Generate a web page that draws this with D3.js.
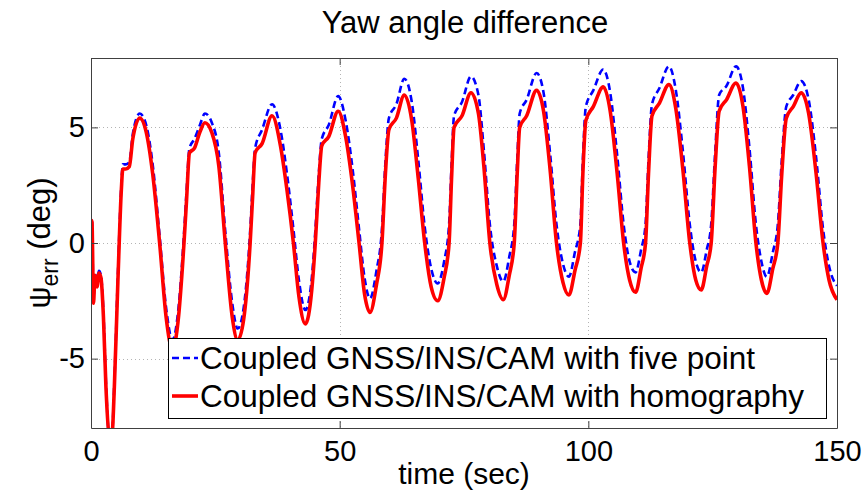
<!DOCTYPE html>
<html>
<head>
<meta charset="utf-8">
<script src="https://cdn.jsdelivr.net/npm/d3@7"></script>
<style>
  html, body { margin: 0; padding: 0; background: #fff; }
  svg { display: block; font-family: Arial, "Liberation Sans", sans-serif; }
</style>
</head>
<body>
<svg id="chart" width="867" height="495"></svg>
<script>
// ---------------- data ----------------
const chartTitle = "Yaw angle difference";
const xLabel = "time (sec)";
const seriesNames = ["Coupled GNSS/INS/CAM with five point", "Coupled GNSS/INS/CAM with homography"];
const xTicks = [0, 50, 100, 150];
const yTicks = [-5, 0, 5];

const time = [
  0, 0.2, 0.5, 0.8, 1.2, 1.6, 2.0, 2.5, 3.0, 3.6, 4.2, 4.7, 5.4, 6.1, 6.4, 7.0, 7.7, 8.4, 9.8, 11.1, 12.4, 13.8, 15.1,
  16.4, 17.5, 18.7, 19.2, 19.8, 20.8, 21.9, 22.9, 24.3, 25.7, 27.0, 28.4,
  29.5, 30.7, 32.0, 32.5, 33.0, 34.4, 36.4, 38.1, 39.4, 40.7, 41.8,
  43.1, 44.4, 45.1, 45.8, 46.4, 47.8, 49.7, 51.2, 52.6, 53.9, 55.0,
  56.1, 57.4, 58.5, 59.2, 59.9, 61.4, 63.0, 64.5, 65.8, 67.1, 68.4,
  69.7, 71.0, 72.0, 72.5, 73.0, 74.6, 76.4, 77.9, 79.0, 80.2, 81.6,
  82.9, 84.1, 85.1, 85.7, 86.2, 87.6, 89.6, 91.0, 92.3, 93.6, 94.9,
  96.1, 97.3, 98.4, 98.9, 99.5, 101.0, 103.0, 104.4, 105.8, 107.1, 108.3,
  109.5, 110.6, 111.5, 112.1, 112.8, 114.3, 116.2, 117.6, 119.0, 120.4, 121.6,
  122.7, 123.8, 124.7, 125.5, 126.3, 127.8, 129.7, 131.1, 132.4, 133.7, 134.8,
  135.9, 137.1, 138.1, 138.9, 139.8, 141.2, 142.8, 144.3, 145.8, 147.2, 148.4, 150
];
const homography = [
  1.0, 0.9, -2.6, -1.4, -1.9, -1.3, -1.5, -3.2, -6.2, -8.2, -8.3, -6.2, -1.7, 2.3, 3.2, 3.2, 3.3, 4.5, 5.4, 4.8, 3.0, 0, -3.2,
  -4.6, -3.4, 0, 1.8, 3.9, 4.1, 4.8, 5.2, 4.77, 3.33, 0, -3.2,
  -4.2, -3.3, 0, 2.0, 3.9, 4.3, 5.5, 4.2, 2.3, 0, -2.3,
  -3.5, -2.0, 0, 2.6, 4.2, 4.6, 5.7, 4.6, 2.5, 0, -2.2,
  -3.0, -1.8, 0, 3.0, 4.9, 5.4, 6.4, 5.3, 2.8, 0, -1.9,
  -2.5, -1.5, 0, 2.8, 5.0, 5.5, 6.5, 5.6, 3.3, 0, -1.8,
  -2.45, -1.4, 0, 3.0, 5.0, 5.5, 6.6, 5.7, 3.2, 0, -1.7,
  -2.25, -1.2, 0, 3.0, 5.3, 5.9, 6.75, 5.7, 3.0, 0, -1.6,
  -2.13, -1.1, 0, 3.0, 5.5, 6.05, 6.85, 5.8, 3.2, 0, -1.6,
  -2.03, -1.0, 0, 3.3, 5.7, 6.2, 6.92, 5.9, 3.3, 0, -1.6,
  -2.18, -1.1, 0, 3.0, 5.4, 5.9, 6.49, 5.6, 3.0, 0, -1.6, -2.45
];
const fivePoint = [
  1.0, 0.9, -2.5, -1.3, -1.8, -1.2, -1.4, -3.0, -6.0, -8.2, -8.3, -6.0, -1.4, 2.5, 3.4, 3.4, 3.5, 4.7, 5.6, 5.1, 3.4, 0.3, -2.8,
  -4.2, -3.0, 0.4, 2.2, 4.1, 4.5, 5.1, 5.6, 5.2, 3.9, 0.5, -2.6,
  -3.7, -2.8, 0.5, 2.5, 4.1, 4.9, 6.0, 4.9, 3.0, 0.6, -1.6,
  -2.9, -1.5, 0.5, 3.0, 4.5, 5.1, 6.35, 5.3, 3.2, 0.6, -1.5,
  -2.4, -1.2, 0.6, 3.5, 5.4, 6.0, 7.1, 6.1, 3.6, 0.7, -1.1,
  -1.75, -0.8, 0.8, 3.4, 5.5, 6.1, 7.2, 6.4, 4.0, 0.8, -1.0,
  -1.67, -0.6, 0.8, 3.6, 5.6, 6.2, 7.35, 6.5, 3.9, 0.8, -0.9,
  -1.46, -0.4, 0.8, 3.6, 5.9, 6.6, 7.5, 6.5, 3.8, 0.8, -0.8,
  -1.27, -0.3, 0.8, 3.6, 6.0, 6.7, 7.64, 6.6, 4.0, 0.8, -0.8,
  -1.27, -0.3, 0.8, 3.9, 6.4, 6.8, 7.64, 6.7, 4.1, 0.8, -0.8,
  -1.46, -0.4, 0.8, 3.6, 5.9, 6.4, 7.0, 6.2, 3.7, 0.6, -1.0, -1.85
];

// ---------------- layout ----------------
const svg = d3.select("#chart");
const L = 91, R = 837, T = 58, B = 428;
const x = d3.scaleLinear().domain([0, 150]).range([L, R]);
const y = d3.scaleLinear().domain([-8, 8]).range([B, T]);

// grid
const grid = svg.append("g").attr("stroke", "#b4b4b4").attr("stroke-width", 1).attr("stroke-dasharray", "1,3");
grid.selectAll("line.gy").data(yTicks).join("line")
  .attr("x1", L).attr("x2", R).attr("y1", d => Math.round(y(d)) + 0.5).attr("y2", d => Math.round(y(d)) + 0.5);
grid.selectAll("line.gx").data(xTicks.filter(d => d > 0 && d < 150)).join("line")
  .attr("y1", T).attr("y2", B).attr("x1", d => Math.round(x(d)) + 0.5).attr("x2", d => Math.round(x(d)) + 0.5);

// clip
svg.append("defs").append("clipPath").attr("id", "clip")
  .append("rect").attr("x", L).attr("y", T).attr("width", R - L).attr("height", B - T);

const data = time.map((t, i) => ({ t, a: fivePoint[i], b: homography[i] }));
const lineA = d3.line().x(d => x(d.t)).y(d => y(d.a)).curve(d3.curveMonotoneX);
const lineB = d3.line().x(d => x(d.t)).y(d => y(d.b)).curve(d3.curveMonotoneX);

const plot = svg.append("g").attr("clip-path", "url(#clip)");
plot.append("path").datum(data).attr("d", lineA)
  .attr("fill", "none").attr("stroke", "#0000ff").attr("stroke-width", 2.6)
  .attr("stroke-dasharray", "7,4");
plot.append("path").datum(data).attr("d", lineB)
  .attr("fill", "none").attr("stroke", "#ff0000").attr("stroke-width", 3.6)
  .attr("stroke-linejoin", "round");

// axes (MATLAB style: ticks inside, all four sides)
const axisColor = "#404040";
const tickLen = 7;
const fontSize = 29;
const fmt = d => String(d);

const xAxisB = d3.axisBottom(x).tickValues(xTicks).tickFormat(fmt).tickSizeInner(-tickLen).tickSizeOuter(0).tickPadding(12);
const gxb = svg.append("g").attr("transform", `translate(0,${B})`).call(xAxisB);
const xAxisT = d3.axisTop(x).tickValues(xTicks).tickSizeInner(-tickLen).tickSizeOuter(0).tickFormat("");
const gxt = svg.append("g").attr("transform", `translate(0,${T})`).call(xAxisT);
const yAxisL = d3.axisLeft(y).tickValues(yTicks).tickFormat(fmt).tickSizeInner(-tickLen).tickSizeOuter(0).tickPadding(6);
const gyl = svg.append("g").attr("transform", `translate(${L},0)`).call(yAxisL);
const yAxisR = d3.axisRight(y).tickValues(yTicks).tickSizeInner(-tickLen).tickSizeOuter(0).tickFormat("");
const gyr = svg.append("g").attr("transform", `translate(${R},0)`).call(yAxisR);

[gxb, gxt, gyl, gyr].forEach(g => {
  g.select(".domain").attr("stroke", axisColor);
  g.selectAll(".tick line").attr("stroke", axisColor);
  g.selectAll(".tick text").attr("fill", "#000").style("font-size", fontSize + "px")
    .style("font-family", "Arial, 'Liberation Sans', sans-serif");
});
gxb.selectAll(".tick text").attr("dy", "0.71em");

// title
svg.append("text").attr("x", (L + R) / 2 + 1).attr("y", 33).attr("text-anchor", "middle")
  .style("font-size", "31px").text(chartTitle);
// x label
svg.append("text").attr("x", (L + R) / 2).attr("y", 484).attr("text-anchor", "middle")
  .style("font-size", "30px").text(xLabel);
// y label
const yl = svg.append("text").attr("transform", `translate(50,${(T + B) / 2}) rotate(-90)`)
  .attr("text-anchor", "middle").style("font-size", "31px");
yl.append("tspan").text("\u03C8");
yl.append("tspan").attr("dy", 8).style("font-size", "23px").text("err");
yl.append("tspan").attr("dy", -8).text(" (deg)");

// legend
const lg = svg.append("g");
lg.append("rect").attr("x", 168.5).attr("y", 338.5).attr("width", 658).attr("height", 80)
  .attr("fill", "#fff").attr("stroke", "#000").attr("stroke-width", 1);
const items = [
  { name: seriesNames[0], color: "#0000ff", dash: "7,4", w: 2.6 },
  { name: seriesNames[1], color: "#ff0000", dash: null, w: 3.6 }
];
items.forEach((it, i) => {
  const cy = 358 + i * 38;
  lg.append("line").attr("x1", 172).attr("x2", 198).attr("y1", cy).attr("y2", cy)
    .attr("stroke", it.color).attr("stroke-width", it.w).attr("stroke-dasharray", it.dash);
  lg.append("text").attr("x", 200).attr("y", cy + 11).style("font-size", "31.5px").text(it.name);
});
</script>
</body>
</html>
